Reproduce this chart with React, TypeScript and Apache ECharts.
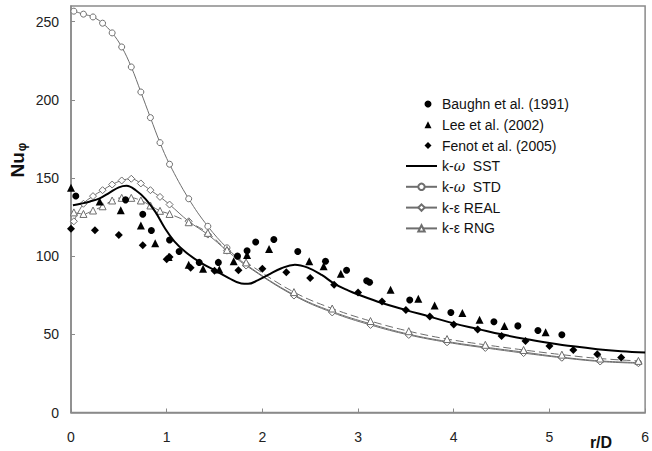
import React, { useEffect, useRef } from "react";
import * as echarts from "echarts";

// Experimental data (r/D, Nu)
const baughn: [number, number][] = [
  [0.05, 138.5], [0.57, 136], [0.75, 126.8], [0.84, 116.4], [1.03, 110.3], [1.13, 103],
  [1.34, 96], [1.54, 96], [1.74, 100], [1.84, 103.5], [1.93, 109], [2.12, 110.6],
  [2.37, 103], [2.66, 96.7], [2.88, 91], [3.09, 84.3], [3.12, 83.3], [3.54, 72],
  [3.97, 64], [4.42, 58], [4.67, 55.4], [4.88, 52.4], [5.13, 49.7],
];
const lee: [number, number][] = [
  [0.0, 143.7], [0.3, 135], [0.52, 129.4], [0.73, 119.6], [0.88, 108.3], [1.02, 99.5],
  [1.23, 94.5], [1.38, 92], [1.55, 91.5], [1.7, 96.7], [1.84, 100.8], [2.07, 104.5],
  [2.49, 96.7], [2.64, 93.5], [2.82, 88.8], [3.34, 78.5], [3.63, 72.8], [3.8, 68.5],
  [4.09, 63.6], [4.27, 59.3], [4.53, 55.4], [4.96, 51.4],
];
const fenot: [number, number][] = [
  [0.0, 117.5], [0.25, 116.5], [0.5, 113.5], [0.75, 107], [1.0, 98], [1.03, 99.5],
  [1.25, 92.6], [1.5, 90.7], [1.75, 91], [2.0, 92], [2.25, 89.7], [2.5, 86],
  [2.75, 81.7], [3.0, 76.8], [3.25, 71], [3.5, 65.5], [3.75, 61.4], [4.0, 56.3],
  [4.25, 53.1], [4.5, 49], [4.75, 45.8], [5.0, 42.6], [5.25, 40], [5.5, 37.3], [5.75, 35.1],
];

// Computed profiles (r/D, Nu)
const sst: [number, number][] = [
  [0.02, 132.5], [0.1, 133.5], [0.2, 135], [0.3, 137], [0.4, 140.5], [0.5, 144], [0.58, 145],
  [0.68, 142], [0.78, 136.5], [0.88, 128.5], [0.98, 118], [1.08, 109.5], [1.2, 102.5],
  [1.35, 96], [1.5, 91], [1.65, 86], [1.78, 82.5], [1.85, 82.3], [1.95, 84.5], [2.06, 88],
  [2.2, 92.3], [2.34, 94.5], [2.48, 92.5], [2.62, 88], [2.75, 82.5], [2.9, 78], [3.0, 75.5],
  [3.25, 70], [3.5, 65.5], [3.75, 61.3], [4.0, 57], [4.25, 53.5], [4.5, 50], [4.75, 47],
  [5.0, 44.5], [5.25, 42.3], [5.5, 40.5], [5.75, 39.2], [6.0, 38.3],
];
const std: [number, number][] = [
  [0.03, 256.7], [0.13, 254.8], [0.23, 253], [0.33, 249], [0.43, 242.8], [0.53, 233.8],
  [0.63, 221], [0.73, 205], [0.83, 188.6], [0.93, 172.6], [1.03, 158.8], [1.23, 136.7],
  [1.43, 119.1], [1.63, 105.3], [1.83, 94.6], [2.33, 75.3], [2.73, 64.6], [3.13, 56.7],
  [3.53, 50.1], [3.93, 45.4], [4.33, 41.8], [4.73, 38.6], [5.13, 35.4], [5.53, 33], [5.93, 31.9],
];
const real: [number, number][] = [
  [0.03, 122.3], [0.13, 133.5], [0.23, 138.4], [0.33, 142.2], [0.43, 145.8], [0.53, 148.4],
  [0.63, 149.5], [0.73, 146.5], [0.83, 142.2], [0.93, 137.9], [1.03, 133], [1.23, 122.3],
  [1.43, 113.8], [1.63, 103.5], [1.83, 94], [2.33, 74.8], [2.73, 64], [3.13, 56],
  [3.53, 49.6], [3.93, 44.9], [4.33, 41.3], [4.73, 38], [5.13, 35], [5.53, 32.6], [5.93, 31.5],
];
const rng: [number, number][] = [
  [0.03, 128], [0.13, 127], [0.23, 129.2], [0.33, 131.9], [0.43, 135.6], [0.53, 137.3],
  [0.63, 137.3], [0.73, 135.6], [0.83, 132.4], [0.93, 129], [1.03, 127], [1.23, 121.7],
  [1.43, 114.9], [1.63, 104], [1.83, 96], [2.33, 77], [2.73, 66.5], [3.13, 58.5],
  [3.53, 52], [3.93, 47], [4.33, 43.3], [4.73, 40], [5.13, 37], [5.53, 34.5], [5.93, 33],
];

const EXP_NAMES = ["Baughn et al. (1991)", "Lee et al. (2002)", "Fenot et al. (2005)"];
const MODEL_NAMES = ["k-ω  SST", "k-ω  STD", "k-ε REAL", "k-ε RNG"];

const FONT = "'Liberation Sans', Arial, sans-serif";
const AXIS_GRAY = "#8a8a8a";
const LINE_GRAY = "#6e6e6e";

export default function App() {
  const ref = useRef<HTMLDivElement>(null);

  useEffect(() => {
    if (!ref.current) return;
    const chart = echarts.init(ref.current, undefined, { renderer: "svg" });

    const hollow = (symbol: string, size: number) => ({
      symbol,
      symbolSize: size,
      showSymbol: true,
      itemStyle: { color: "#ffffff", borderColor: LINE_GRAY, borderWidth: 1 },
    });

    const legendText = {
      color: "#111",
      fontSize: 14,
      fontFamily: FONT,
      rich: { i: { fontStyle: "italic", fontSize: 14, fontFamily: "'DejaVu Serif', serif", color: "#111" } },
    };

    chart.setOption({
      animation: false,
      backgroundColor: "#ffffff",
      textStyle: { fontFamily: FONT },
      grid: {
        left: 71,
        right: 2,
        top: 6,
        bottom: 38.5,
        show: true,
        borderColor: AXIS_GRAY,
        borderWidth: 1.5,
      },
      xAxis: {
        type: "value",
        min: 0,
        max: 6,
        interval: 1,
        axisLine: { show: true, lineStyle: { color: AXIS_GRAY, width: 1.5 } },
        axisTick: { show: true, inside: true, length: 4, lineStyle: { color: AXIS_GRAY } },
        axisLabel: { color: "#222", fontSize: 14, fontFamily: FONT, margin: 17 },
        splitLine: { show: false },
      },
      yAxis: {
        type: "value",
        min: 0,
        max: 260,
        interval: 50,
        axisLine: { show: true, lineStyle: { color: AXIS_GRAY, width: 1.5 } },
        axisTick: { show: true, inside: true, length: 4, lineStyle: { color: AXIS_GRAY } },
        axisLabel: { color: "#222", fontSize: 14, fontFamily: FONT, margin: 12, showMaxLabel: false },
        splitLine: { show: false },
      },
      legend: [
        {
          orient: "vertical",
          left: 424.5,
          top: 97,
          padding: 0,
          itemWidth: 7,
          itemHeight: 7,
          itemGap: 6.8,
          data: EXP_NAMES,
          textStyle: { ...legendText, padding: [0, 0, 0, 5.5] },
          selectedMode: false,
        },
        {
          orient: "vertical",
          left: 405,
          top: 159,
          padding: 0,
          itemWidth: 31,
          itemHeight: 8,
          itemGap: 6.8,
          data: [
            { name: MODEL_NAMES[0], itemStyle: { opacity: 0 } },
            { name: MODEL_NAMES[1] },
            { name: MODEL_NAMES[2] },
            { name: MODEL_NAMES[3], lineStyle: { type: "solid" } },
          ],
          formatter: (n: string) => n.replace("ω", "{i|ω}"),
          textStyle: legendText,
          selectedMode: false,
        },
      ],
      graphic: [
        {
          type: "text",
          x: 17,
          y: 160,
          rotation: Math.PI / 2,
          style: {
            text: "{a|Nu}{b|φ}",
            align: "center",
            verticalAlign: "middle",
            rich: {
              a: { fontSize: 19, fontWeight: "bold", fontFamily: FONT, fill: "#111" },
              b: { fontSize: 12, fontWeight: "bold", fontFamily: FONT, fill: "#111", padding: [10, 0, 0, 1] },
            },
          },
        },
        {
          type: "text",
          x: 601,
          y: 442,
          style: {
            text: "r/D",
            align: "center",
            verticalAlign: "middle",
            fontSize: 16,
            fontWeight: "bold",
            fontFamily: FONT,
            fill: "#111",
          },
        },
      ],
      series: [
        {
          name: MODEL_NAMES[1],
          type: "line",
          data: std,
          smooth: 0.4,
          ...hollow("circle", 6),
          lineStyle: { color: LINE_GRAY, width: 1 },
          z: 2,
        },
        {
          name: MODEL_NAMES[2],
          type: "line",
          data: real,
          smooth: 0.4,
          ...hollow("diamond", 7),
          lineStyle: { color: LINE_GRAY, width: 1 },
          z: 2,
        },
        {
          name: MODEL_NAMES[3],
          type: "line",
          data: rng,
          smooth: 0.4,
          ...hollow("triangle", 7),
          lineStyle: { color: LINE_GRAY, width: 1, type: [8, 4] },
          z: 2,
        },
        {
          name: MODEL_NAMES[0],
          type: "line",
          data: sst,
          smooth: 0.4,
          symbol: "none",
          lineStyle: { color: "#000", width: 2 },
          itemStyle: { color: "#000" },
          z: 3,
        },
        {
          name: EXP_NAMES[0],
          type: "scatter",
          data: baughn,
          symbol: "circle",
          symbolSize: 7,
          itemStyle: { color: "#000", opacity: 1 },
          z: 4,
        },
        {
          name: EXP_NAMES[1],
          type: "scatter",
          data: lee,
          symbol: "triangle",
          symbolSize: 8,
          itemStyle: { color: "#000", opacity: 1 },
          z: 4,
        },
        {
          name: EXP_NAMES[2],
          type: "scatter",
          data: fenot,
          symbol: "diamond",
          symbolSize: 8,
          itemStyle: { color: "#000", opacity: 1 },
          z: 4,
        },
      ],
    });

    return () => chart.dispose();
  }, []);

  return (
    <div
      ref={ref}
      style={{ position: "absolute", left: 0, top: 0, width: 652, height: 451, background: "#fff" }}
    />
  );
}
